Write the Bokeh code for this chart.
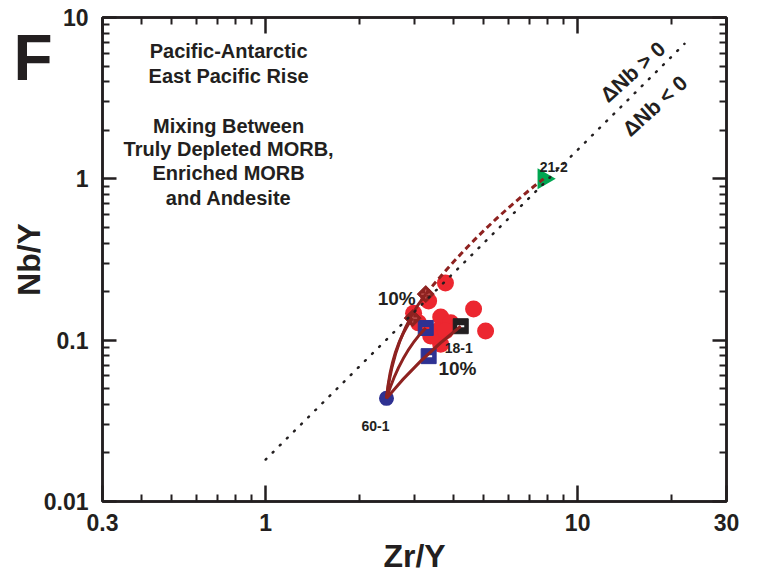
import numpy as np
from bokeh.plotting import figure
from bokeh.models import LogAxis, FixedTicker, CustomJSTickFormatter, Label
from bokeh.embed import file_html
from bokeh.resources import INLINE

# ---------------- data ----------------
# EPR basalts (red circles)
red_zr = [3.77, 3.33, 2.98, 3.64, 3.92, 3.56, 3.64, 4.64, 5.07, 3.09, 3.38, 3.77]
red_nb = [0.226, 0.175, 0.147, 0.139, 0.128, 0.114, 0.0944, 0.156, 0.114, 0.128, 0.106, 0.114]

# end members
depleted_zr, depleted_nb = [2.44], [0.0436]      # 60-1 truly depleted MORB
enriched_zr, enriched_nb = [7.78], [1.0]         # 21-2 enriched MORB
andesite_zr, andesite_nb = [4.22], [0.122]       # 18-1 andesite

# 10% mixing points
mix_e_zr, mix_e_nb = [3.26, 2.96], [0.193, 0.137]     # brown diamonds
mix_a_zr, mix_a_nb = [3.26, 3.33], [0.119, 0.0796]    # blue squares

# mixing curves: start, end and control point (data units)
curve_x0 = [2.44, 2.44, 2.44, 2.44]
curve_y0 = [0.0436, 0.0436, 0.0436, 0.0436]
curve_x1 = [3.26, 2.96, 3.26, 4.22]
curve_y1 = [0.193, 0.137, 0.119, 0.122]
curve_cx = [2.58, 2.53, 2.71, 3.09]
curve_cy = [0.108, 0.0918, 0.083, 0.0762]

# dashed continuation toward enriched MORB
ext_x0, ext_y0 = [3.26], [0.193]
ext_x1, ext_y1 = [7.78], [1.0]
ext_cx, ext_cy = [4.82], [0.489]

# Delta Nb = 0 reference line
dnb_zr = [1.0, 22.0]
dnb_nb = [0.0182, 6.87]

x_ticks = [0.3, 1, 10, 30]
x_minor = [0.4, 0.5, 0.6, 0.7, 0.8, 0.9, 2, 3, 4, 5, 6, 7, 8, 9, 20]
y_ticks = [0.01, 0.1, 1, 10]
y_minor = [0.02, 0.03, 0.04, 0.05, 0.06, 0.07, 0.08, 0.09,
           0.2, 0.3, 0.4, 0.5, 0.6, 0.7, 0.8, 0.9,
           2, 3, 4, 5, 6, 7, 8, 9]

# ---------------- style ----------------
RED = "#EC2730"
BLUE = "#2E3192"
GREEN = "#00A651"
BROWN = "#8E2220"
INK = "#231F20"
FONT = "Liberation Sans"

p = figure(width=759, height=573, x_axis_type="log", y_axis_type="log",
           x_range=(0.3, 30), y_range=(0.01, 10),
           output_backend="svg", toolbar_location=None,
           min_border_left=102, min_border_right=33,
           min_border_top=17, min_border_bottom=72)
p.grid.visible = False
p.outline_line_color = INK
p.outline_line_width = 2.5
p.background_fill_color = "white"
p.border_fill_color = "white"

fmt = CustomJSTickFormatter(code="return tick.toString();")


def style_axis(ax, ticks, minor, show_labels, major_len):
    ax.ticker = FixedTicker(ticks=ticks, minor_ticks=minor)
    ax.axis_line_color = INK
    ax.axis_line_width = 2.5
    ax.major_tick_line_color = INK
    ax.major_tick_line_width = 2.5
    ax.minor_tick_line_color = INK
    ax.minor_tick_line_width = 2
    ax.major_tick_in = major_len
    ax.major_tick_out = 0
    ax.minor_tick_in = 7
    ax.minor_tick_out = 0
    if show_labels:
        ax.formatter = fmt
        ax.major_label_text_font = FONT
        ax.major_label_text_font_style = "bold"
        ax.major_label_text_font_size = "23px"
        ax.major_label_text_color = INK
    else:
        ax.major_label_text_font_size = "0px"
        ax.major_label_text_color = None
        ax.major_label_standoff = 0


xax = p.xaxis[0]
yax = p.yaxis[0]
style_axis(xax, x_ticks, x_minor, True, 16)
xax.major_label_standoff = 12
style_axis(yax, y_ticks, y_minor, True, 14)
yax.major_label_standoff = 14
yax.axis_label = "Nb/Y"
yax.axis_label_text_font = FONT
yax.axis_label_text_font_style = "bold"
yax.axis_label_text_font_size = "32px"
yax.axis_label_text_color = INK
yax.axis_label_standoff = -6

top = LogAxis()
style_axis(top, x_ticks, x_minor, False, 16)
p.add_layout(top, "above")
right = LogAxis()
style_axis(right, y_ticks, y_minor, False, 14)
p.add_layout(right, "right")

# panel letter "F": a single-tick label axis outside the y axis
f_axis = LogAxis(ticker=FixedTicker(ticks=[5.64], minor_ticks=[]),
                 formatter=CustomJSTickFormatter(code="return 'F';"),
                 axis_line_color=None, major_tick_line_color=None,
                 minor_tick_line_color=None,
                 major_tick_in=0, major_tick_out=0, minor_tick_in=0, minor_tick_out=0,
                 major_label_standoff=-45,
                 major_label_text_font=FONT, major_label_text_font_style="bold",
                 major_label_text_font_size="64px", major_label_text_color=INK)
p.add_layout(f_axis, "left")


def make_label(x, y, text, size, angle=0):
    return Label(x=x, y=y, text=text, text_font=FONT, text_font_style="bold",
                 text_font_size=size, text_color=INK, text_align="center",
                 text_baseline="middle", angle=angle, angle_units="deg")


# x-axis title lives in the bottom panel (drawn at its data position)
p.add_layout(make_label(3.0, 0.00462, "Zr/Y", "32px"), "below")

# ---------------- marks ----------------
p.scatter(red_zr, red_nb, marker="circle", size=17, fill_color=RED, line_color=None)

p.scatter(andesite_zr, andesite_nb, marker="square", size=15, fill_color=INK, line_color=INK)
p.scatter(andesite_zr, andesite_nb, marker="dash", size=7, line_color="white", line_width=2)

p.scatter(mix_a_zr, mix_a_nb, marker="square", size=15, fill_color=BLUE, line_color=BLUE)
p.scatter(mix_a_zr, mix_a_nb, marker="dash", size=7, line_color=[RED, "white"], line_width=2)

p.scatter(mix_e_zr, mix_e_nb, marker="square", angle=45, angle_units="deg", size=12,
          fill_color=BROWN, line_color=BROWN)
p.scatter(mix_e_zr, mix_e_nb, marker="cross", size=9, line_color="#C65A55", line_width=1.2)

p.scatter(enriched_zr, enriched_nb, marker="triangle", angle=-90, angle_units="deg",
          size=21, fill_color=GREEN, line_color=None)
p.scatter(depleted_zr, depleted_nb, marker="circle", size=15, fill_color=BLUE, line_color=None)

p.quadratic(x0=curve_x0, y0=curve_y0, x1=curve_x1, y1=curve_y1,
            cx=curve_cx, cy=curve_cy, line_color=BROWN, line_width=3)
p.quadratic(x0=ext_x0, y0=ext_y0, x1=ext_x1, y1=ext_y1, cx=ext_cx, cy=ext_cy,
            line_color=BROWN, line_width=3, line_dash="6 4")

p.line(dnb_zr, dnb_nb, line_color=INK, line_width=2.5, line_dash="1 9", line_cap="round")

# ---------------- texts inside the frame ----------------
for args in [
    (0.761, 6.24, "Pacific-Antarctic", "20px"),
    (0.761, 4.36, "East Pacific Rise", "20px"),
    (0.761, 2.13, "Mixing Between", "20px"),
    (0.761, 1.536, "Truly Depleted MORB,", "20px"),
    (0.761, 1.09, "Enriched MORB", "20px"),
    (0.761, 0.762, "and Andesite", "20px"),
    (8.38, 1.187, "21-2", "14px"),
    (2.25, 0.0292, "60-1", "14px"),
    (4.16, 0.0892, "18-1", "14px"),
    (2.63, 0.1824, "10%", "19px"),
    (4.12, 0.067, "10%", "19px"),
]:
    p.add_layout(make_label(*args))

p.add_layout(make_label(15.0, 4.62, "\u0394Nb > 0", "21px", angle=42))
p.add_layout(make_label(17.65, 2.84, "\u0394Nb < 0", "21px", angle=42))

open("out.html", "w").write(file_html(p, INLINE))
